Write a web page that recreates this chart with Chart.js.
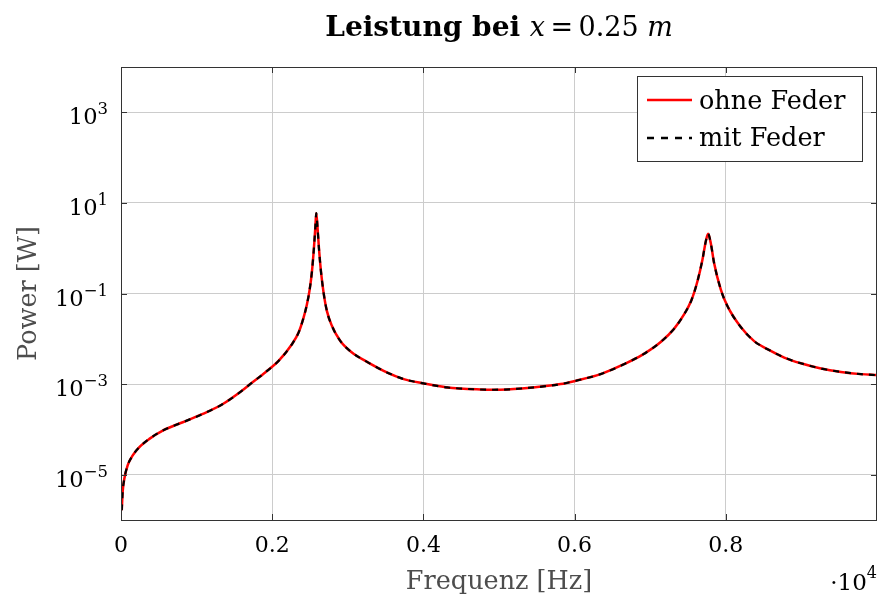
<!DOCTYPE html>
<html>
<head>
<meta charset="utf-8">
<script src="https://cdn.jsdelivr.net/npm/chart.js@4.4.0/dist/chart.umd.min.js"></script>
<style>
  html, body { margin: 0; padding: 0; background: #fff; }
  #wrap { width: 878px; height: 600px; }
</style>
</head>
<body>
<div id="wrap"><canvas id="myChart" width="878" height="600"></canvas></div>
<script>
'use strict';

// values (Hz / W)
const frequencies = [
  10, 22, 44, 88, 155, 243, 375, 552, 817, 1082, 1347, 1612, 1709, 1907,
  2084, 2261, 2349, 2415, 2459, 2494, 2526, 2552, 2570, 2583, 2600, 2618,
  2645, 2680, 2724, 2791, 2901, 3055, 3232, 3474, 3739, 4004, 4314, 4755,
  4931, 5300, 5815, 6013, 6344, 6653, 6900, 7139, 7315, 7448, 7545, 7625,
  7691, 7735, 7766, 7801, 7845, 7934, 8022, 8198, 8375, 8552, 8773, 8993,
  9258, 9523, 9788, 10000
];
const powerOhneFeder = [
  1.64e-6, 4.17e-6, 8.13e-6, 1.6e-5, 2.66e-5, 4.07e-5, 6.18e-5, 9.42e-5, 1.44e-4, 2.19e-4, 3.63e-4, 7.4e-4, 1.0e-3, 1.81e-3,
  3.25e-3, 7.57e-3, 0.0137, 0.0292, 0.0573, 0.1175, 0.309, 1.01, 2.78, 5.94, 2.78, 1.01,
  0.309, 0.1035, 0.0408, 0.0191, 8.95e-3, 4.98e-3, 3.25e-3, 1.96e-3, 1.29e-3, 1.035e-3, 8.45e-4, 7.6e-4,
  7.5e-4, 8.0e-4, 1.0e-3, 1.18e-3, 1.66e-3, 2.75e-3, 4.47e-3, 8.5e-3, 0.0166, 0.0345, 0.0708, 0.186,
  0.558, 1.41, 2.08, 1.3, 0.473, 0.1225, 0.0526, 0.0182, 8.9e-3, 5.9e-3, 3.86e-3, 2.88e-3,
  2.21e-3, 1.86e-3, 1.66e-3, 1.58e-3
];
// the two curves lie on top of each other in the picture
const powerMitFeder = powerOhneFeder.slice();

const xTicks = [0, 2000, 4000, 6000, 8000];
const xTickLabels = ['0', '0.2', '0.4', '0.6', '0.8'];
const yTicks = [1e3, 1e1, 1e-1, 1e-3, 1e-5];
const yTickExponents = ['3', '1', '\u22121', '\u22123', '\u22125'];

const serif = '"DejaVu Serif", "Liberation Serif", serif';

function toPoints(values) {
  return frequencies.map((f, i) => ({ x: f, y: values[i] }));
}

// draws the frame, labels, title and legend in the pgfplots look
const decorations = {
  id: 'decorations',
  afterDraw(chart) {
    const ctx = chart.ctx;
    const area = chart.chartArea;
    const xs = chart.scales.x;
    const ys = chart.scales.y;
    ctx.save();

    // frame
    ctx.strokeStyle = '#333';
    ctx.lineWidth = 1;
    ctx.strokeRect(Math.round(area.left) + 0.5, Math.round(area.top) + 0.5,
      Math.round(area.right - area.left) - 1, Math.round(area.bottom - area.top));

    // inner tick marks
    ctx.beginPath();
    xTicks.forEach(v => {
      const px = Math.round(xs.getPixelForValue(v)) + 0.5;
      ctx.moveTo(px, area.bottom); ctx.lineTo(px, area.bottom - 6);
      ctx.moveTo(px, area.top); ctx.lineTo(px, area.top + 6);
    });
    yTicks.forEach(v => {
      const py = Math.round(ys.getPixelForValue(v)) + 0.5;
      ctx.moveTo(area.left, py); ctx.lineTo(area.left + 6, py);
      ctx.moveTo(area.right, py); ctx.lineTo(area.right - 6, py);
    });
    ctx.stroke();

    ctx.fillStyle = '#000';
    ctx.textBaseline = 'alphabetic';

    // x tick labels
    ctx.font = '22px ' + serif;
    ctx.textAlign = 'center';
    xTicks.forEach((v, i) => {
      ctx.fillText(xTickLabels[i], xs.getPixelForValue(v), 552);
    });

    // y tick labels 10^n
    yTicks.forEach((v, i) => {
      const py = ys.getPixelForValue(v);
      ctx.font = '16.5px ' + serif;
      const expW = ctx.measureText(yTickExponents[i]).width;
      ctx.textAlign = 'right';
      ctx.fillText(yTickExponents[i], 108, py + 2);
      ctx.font = '22.5px ' + serif;
      ctx.fillText('10', 108 - expW, py + 12);
    });

    // axis titles
    ctx.fillStyle = '#4d4d4d';
    ctx.font = '25.5px ' + serif;
    ctx.textAlign = 'center';
    ctx.fillText('Frequenz [Hz]', (area.left + area.right) / 2, 589);
    ctx.save();
    ctx.translate(36, (area.top + area.bottom) / 2);
    ctx.rotate(-Math.PI / 2);
    ctx.fillText('Power [W]', 0, 0);
    ctx.restore();

    // scale factor at the x axis
    ctx.fillStyle = '#000';
    ctx.textAlign = 'left';
    ctx.font = '16px ' + serif;
    const e4W = ctx.measureText('4').width;
    ctx.fillText('4', 877 - e4W, 578);
    ctx.font = '23px ' + serif;
    const tenW = ctx.measureText('\u00b710').width;
    ctx.fillText('\u00b710', 877 - e4W - tenW, 590);

    // title: bold text + math part
    const parts = [
      { t: 'Leistung bei ', f: 'bold 28px ' + serif },
      { t: 'x', f: 'italic 27px ' + serif },
      { t: '\u2009=\u20090.25 ', f: '27px ' + serif },
      { t: 'm', f: 'italic 27px ' + serif }
    ];
    let total = 0;
    parts.forEach(p => { ctx.font = p.f; p.w = ctx.measureText(p.t).width; total += p.w; });
    let tx = 499 - total / 2;
    parts.forEach(p => { ctx.font = p.f; ctx.fillText(p.t, tx, 36); tx += p.w; });

    // legend
    ctx.fillStyle = '#fff';
    ctx.fillRect(637.5, 76.5, 225, 85);
    ctx.strokeStyle = '#333';
    ctx.strokeRect(637.5, 76.5, 225, 85);
    ctx.lineWidth = 2.5;
    ctx.strokeStyle = '#ff0000';
    ctx.beginPath(); ctx.moveTo(647, 100); ctx.lineTo(692, 100); ctx.stroke();
    ctx.strokeStyle = '#000';
    ctx.setLineDash([7, 7]);
    ctx.beginPath(); ctx.moveTo(647, 138); ctx.lineTo(692, 138); ctx.stroke();
    ctx.setLineDash([]);
    ctx.fillStyle = '#000';
    ctx.font = '25.5px ' + serif;
    ctx.fillText('ohne Feder', 699, 109);
    ctx.fillText('mit Feder', 699, 146);

    ctx.restore();
  }
};

const ctx = document.getElementById('myChart');
const config = {
  type: 'line',
  data: {
    datasets: [
      {
        label: 'ohne Feder',
        data: toPoints(powerOhneFeder),
        borderColor: '#ff0000',
        borderWidth: 2.5,
        pointRadius: 0,
        cubicInterpolationMode: 'monotone',
        order: 2
      },
      {
        label: 'mit Feder',
        data: toPoints(powerMitFeder),
        borderColor: '#000000',
        borderWidth: 2.2,
        borderDash: [6, 6],
        pointRadius: 0,
        cubicInterpolationMode: 'monotone',
        order: 1
      }
    ]
  },
  options: {
    responsive: false,
    animation: false,
    devicePixelRatio: 1,
    layout: { padding: { left: 121, top: 67, right: 1, bottom: 80 } },
    plugins: {
      legend: { display: false },
      tooltip: { enabled: false },
      title: { display: false }
    },
    scales: {
      x: {
        type: 'linear',
        min: 0,
        max: 10000,
        afterBuildTicks: scale => { scale.ticks = xTicks.map(v => ({ value: v })); },
        ticks: { display: false },
        grid: { color: '#cccccc', drawTicks: false },
        border: { display: false }
      },
      y: {
        type: 'logarithmic',
        min: 1e-6,
        max: 1e4,
        afterBuildTicks: scale => { scale.ticks = yTicks.map(v => ({ value: v })); },
        ticks: { display: false },
        grid: { color: '#cccccc', drawTicks: false },
        border: { display: false }
      }
    }
  },
  plugins: [decorations]
};

new Chart(ctx, config);
</script>
</body>
</html>
